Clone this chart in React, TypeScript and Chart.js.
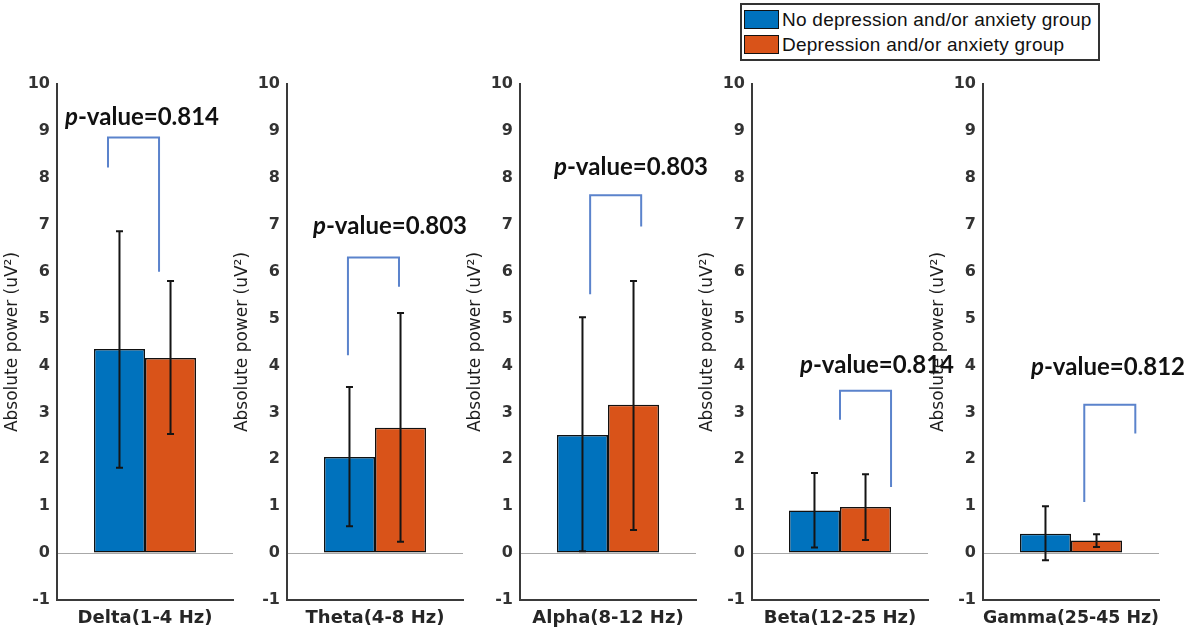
import React, { useEffect, useRef } from 'react';
import { Chart, registerables } from 'chart.js';

Chart.register(...registerables);

// ---------- data ----------
const bands = ['Delta(1-4 Hz)', 'Theta(4-8 Hz)', 'Alpha(8-12 Hz)', 'Beta(12-25 Hz)', 'Gamma(25-45 Hz)'];
const seriesNames = ['No depression and/or anxiety group', 'Depression and/or anxiety group'];
const noDepMean = [4.35, 2.05, 2.52, 0.91, 0.41];
const noDepLow = [1.82, 0.57, 0.04, 0.12, -0.15];
const noDepHigh = [6.86, 3.54, 5.03, 1.71, 1.0];
const depMean = [4.16, 2.67, 3.16, 0.98, 0.27];
const depLow = [2.54, 0.24, 0.49, 0.28, 0.13];
const depHigh = [5.8, 5.12, 5.8, 1.68, 0.4];
const pValues = ['0.814', '0.803', '0.803', '0.814', '0.812'];
const bracketTop = [8.86, 6.3, 7.63, 3.46, 3.16];
const bracketLeftEnd = [8.22, 4.22, 5.52, 2.84, 1.09];
const bracketRightEnd = [6.0, 5.68, 6.96, 1.41, 2.55];
const pLabelY = [9.3, 6.97, 8.22, 4.0, 3.96];
const yMin = -1;
const yMax = 10;
const yTitle = 'Absolute power (uV\u00B2)';

// ---------- layout / style ----------
const AXIS_X = [57, 287, 520, 752, 983];
const Y_AXIS_W = 57;
const PLOT_W = 176;
const RIGHT_PAD = 32;
const CANVAS_W = Y_AXIS_W + PLOT_W + RIGHT_PAD;
const CANVAS_H = 630;
const BRACKET_SHIFT = [-0.725, -0.53, -0.35, 0, 0.26]; // in bar widths, from group centre
const PLABEL_SHIFT = [-3, 15, 23, 37, 37]; // px from group centre
const COLORS = ['#0072BD', '#D95319'];
const AXIS_COLOR = '#3a3a3a';
const TEXT_COLOR = '#262626';
const BRACKET_COLOR = '#5b83cc';

function Panel({ index }: { index: number }) {
  const ref = useRef<HTMLCanvasElement>(null);
  useEffect(() => {
    const i = index;
    const overlay = {
      id: 'overlay',
      afterDatasetsDraw(chart: any) {
        const { ctx } = chart;
        const y = chart.scales.y;
        const b0 = chart.getDatasetMeta(0).data[0] as any;
        const b1 = chart.getDatasetMeta(1).data[0] as any;
        ctx.save();
        // error bars
        ctx.strokeStyle = '#151515';
        ctx.lineWidth = 2;
        const errs: [number, number, number][] = [
          [b0.x, noDepLow[i], noDepHigh[i]],
          [b1.x, depLow[i], depHigh[i]],
        ];
        errs.forEach(([x, lo, hi]) => {
          const yl = y.getPixelForValue(lo);
          const yh = y.getPixelForValue(hi);
          ctx.beginPath();
          ctx.moveTo(x, yl);
          ctx.lineTo(x, yh);
          ctx.moveTo(x - 3.5, yl);
          ctx.lineTo(x + 3.5, yl);
          ctx.moveTo(x - 3.5, yh);
          ctx.lineTo(x + 3.5, yh);
          ctx.stroke();
        });
        // bracket
        const bw = b1.x - b0.x;
        const mid = (b0.x + b1.x) / 2;
        const lx = mid + BRACKET_SHIFT[i] * bw;
        const rx = lx + bw;
        ctx.strokeStyle = BRACKET_COLOR;
        ctx.lineWidth = 2;
        ctx.beginPath();
        ctx.moveTo(lx, y.getPixelForValue(bracketLeftEnd[i]));
        ctx.lineTo(lx, y.getPixelForValue(bracketTop[i]));
        ctx.lineTo(rx, y.getPixelForValue(bracketTop[i]));
        ctx.lineTo(rx, y.getPixelForValue(bracketRightEnd[i]));
        ctx.stroke();
        // p-value label
        const fItalic = 'italic bold 24px Lato';
        const fBold = 'bold 24px Lato';
        const rest = '-value=' + pValues[i];
        ctx.font = fItalic;
        const w1 = ctx.measureText('p').width;
        ctx.font = fBold;
        const w2 = ctx.measureText(rest).width;
        const cx = mid + PLABEL_SHIFT[i];
        const ty = y.getPixelForValue(pLabelY[i]);
        const x0 = cx - (w1 + w2) / 2;
        ctx.fillStyle = '#111';
        ctx.textBaseline = 'middle';
        ctx.textAlign = 'left';
        ctx.font = fItalic;
        ctx.fillText('p', x0, ty);
        ctx.font = fBold;
        ctx.fillText(rest, x0 + w1, ty);
        ctx.restore();
      },
    };

    const chart = new Chart(ref.current as HTMLCanvasElement, {
      type: 'bar',
      data: {
        labels: [bands[i]],
        datasets: [
          {
            label: seriesNames[0],
            data: [noDepMean[i]],
            backgroundColor: COLORS[0],
            borderColor: '#111',
            borderWidth: 1.5,
            borderSkipped: false,
          },
          {
            label: seriesNames[1],
            data: [depMean[i]],
            backgroundColor: COLORS[1],
            borderColor: '#111',
            borderWidth: 1.5,
            borderSkipped: false,
          },
        ],
      },
      options: {
        responsive: false,
        animation: false,
        layout: { padding: { top: 84, right: RIGHT_PAD, bottom: 0, left: 0 } },
        plugins: { legend: { display: false }, tooltip: { enabled: false } },
        datasets: { bar: { categoryPercentage: 0.58, barPercentage: 1 } },
        scales: {
          x: {
            grid: { display: false },
            border: { display: true, color: AXIS_COLOR, width: 2 },
            ticks: { display: false },
            title: {
              display: true,
              text: bands[i],
              font: { family: 'DejaVu Sans', weight: 'bold', size: 18 },
              color: TEXT_COLOR,
              padding: { top: 0, bottom: 1 },
            },
            afterFit(s: any) {
              s.height = 30;
            },
          },
          y: {
            min: yMin,
            max: yMax,
            ticks: {
              stepSize: 1,
              font: { family: 'DejaVu Sans', weight: 'bold', size: 16 },
              color: '#333',
              padding: 7,
            },
            grid: {
              drawTicks: false,
              lineWidth: 1,
              color: (c: any) => (c.tick && c.tick.value === 0 ? '#a8a8a8' : 'rgba(0,0,0,0)'),
            },
            border: { display: true, color: AXIS_COLOR, width: 2 },
            title: {
              display: true,
              text: yTitle,
              font: { family: 'DejaVu Sans', size: 17 },
              color: '#1e1e1e',
              padding: { top: 2, bottom: 0 },
            },
            afterFit(s: any) {
              s.width = Y_AXIS_W;
            },
          },
        },
      } as any,
      plugins: [overlay],
    });
    return () => chart.destroy();
  }, [index]);

  return (
    <canvas
      ref={ref}
      width={CANVAS_W}
      height={CANVAS_H}
      style={{
        position: 'absolute',
        left: AXIS_X[index] - Y_AXIS_W,
        top: 0,
        width: CANVAS_W,
        height: CANVAS_H,
      }}
    />
  );
}

function Legend() {
  const row = (color: string, text: string) => (
    <div style={{ display: 'flex', alignItems: 'center', height: 25 }}>
      <div
        style={{
          width: 33,
          height: 17,
          background: color,
          border: '1.5px solid #111',
          marginRight: 3,
        }}
      />
      <span
        style={{
          fontFamily: '"Liberation Sans", Arial, sans-serif',
          fontSize: 19,
          letterSpacing: 0.25,
          color: '#111',
          whiteSpace: 'nowrap',
        }}
      >
        {text}
      </span>
    </div>
  );
  return (
    <div
      style={{
        position: 'absolute',
        left: 740,
        top: 3,
        width: 354,
        height: 52,
        border: '2px solid #333',
        boxSizing: 'content-box',
        padding: '2px 0 0 2px',
        background: '#fff',
      }}
    >
      {row(COLORS[0], seriesNames[0])}
      {row(COLORS[1], seriesNames[1])}
    </div>
  );
}

export default function App() {
  return (
    <div
      style={{
        position: 'absolute',
        left: 0,
        top: 0,
        width: 1192,
        height: 630,
        background: '#fff',
        overflow: 'hidden',
      }}
    >
      {bands.map((_, i) => (
        <Panel key={i} index={i} />
      ))}
      <Legend />
    </div>
  );
}
